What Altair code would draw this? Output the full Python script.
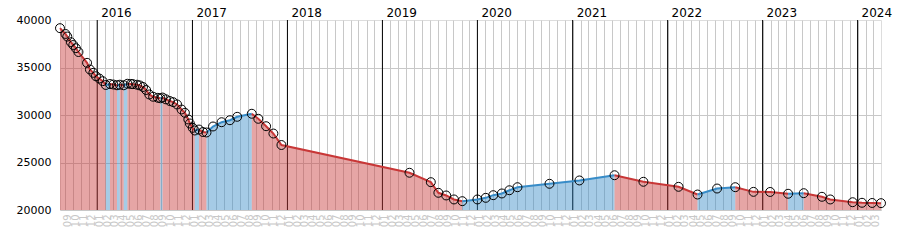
import altair as alt
import pandas as pd

dates = [
    "2015-08-11", "2015-09-01", "2015-09-08", "2015-09-22", "2015-10-01", "2015-10-11",
    "2015-10-21", "2015-11-23", "2015-12-04", "2015-12-17", "2015-12-27", "2016-01-09",
    "2016-01-22", "2016-02-03", "2016-02-19", "2016-03-03", "2016-03-17", "2016-03-28",
    "2016-04-12", "2016-04-26", "2016-05-09", "2016-05-17", "2016-06-02", "2016-06-13",
    "2016-06-25", "2016-07-07", "2016-07-19", "2016-08-03", "2016-08-21", "2016-08-31",
    "2016-09-08", "2016-09-21", "2016-10-06", "2016-10-19", "2016-11-03", "2016-11-20",
    "2016-12-03", "2016-12-16", "2016-12-22", "2017-01-02", "2017-01-10", "2017-01-26",
    "2017-02-10", "2017-02-24", "2017-03-21", "2017-04-23", "2017-05-25", "2017-06-22",
    "2017-08-17", "2017-09-11", "2017-10-11", "2017-11-08", "2017-12-09", "2019-04-15",
    "2019-07-06", "2019-08-04", "2019-09-03", "2019-10-03", "2019-11-04", "2020-01-01",
    "2020-02-02", "2020-03-02", "2020-04-04", "2020-05-03", "2020-06-03", "2020-10-04",
    "2021-01-27", "2021-06-11", "2021-09-30", "2022-02-12", "2022-04-26", "2022-07-10",
    "2022-09-18", "2022-11-27", "2023-01-30", "2023-04-09", "2023-06-08", "2023-08-17",
    "2023-09-18", "2023-12-13", "2024-01-18", "2024-02-26", "2024-03-31",
]
values = [
    39140, 38530, 38260, 37660, 37370, 37030,
    36630, 35490, 34790, 34440, 34080, 33840,
    33560, 33160, 33260, 33210, 33130, 33190,
    33130, 33290, 33270, 33250, 33190, 33110,
    32950, 32630, 32160, 31920, 31810, 31760,
    31840, 31650, 31470, 31350, 31110, 30580,
    30230, 29530, 29110, 28650, 28370, 28470,
    28210, 28160, 28790, 29240, 29450, 29810,
    30130, 29600, 28820, 28050, 26840, 23920,
    22930, 21810, 21530, 21110, 20930, 21110,
    21280, 21560, 21740, 22080, 22400, 22760,
    23110, 23660, 22970, 22440, 21630, 22260,
    22400, 21910, 21900, 21710, 21770, 21390,
    21110, 20820, 20760, 20740, 20720,
]
year_dates = ["2016-01-01", "2017-01-01", "2018-01-01", "2019-01-01", "2020-01-01",
              "2021-01-01", "2022-01-01", "2023-01-01", "2024-01-01"]
year_labels = ["2016", "2017", "2018", "2019", "2020", "2021", "2022", "2023", "2024"]
y_ticks = [20000, 25000, 30000, 35000, 40000]

RED = "#c83737"
BLUE = "#378cc8"

# group consecutive rising / falling intervals into runs
rows = []
run = 0
prev = None
for i in range(len(values) - 1):
    d = "up" if values[i + 1] > values[i] else "down"
    if d != prev:
        run += 1
        rows.append({"date": dates[i], "value": values[i], "run": run, "dir": d})
        prev = d
    rows.append({"date": dates[i + 1], "value": values[i + 1], "run": run, "dir": d})
seg = pd.DataFrame(rows)
pts = pd.DataFrame({"date": dates, "value": values})
yrs = pd.DataFrame({"date": year_dates, "label": year_labels})

x_axis = alt.Axis(
    format="%m", tickCount={"interval": "month", "step": 1}, labelAngle=270,
    labelOverlap=False, labelFlush=False, labelBound=False, ticks=False, domain=False,
    labelColor="#c8c8c8", labelFontSize=10, labelFont="DejaVu Sans", labelPadding=4,
    labelOffset=2, gridColor="#c8c8c8", gridWidth=1, title=None,
)
y_axis = alt.Axis(
    values=y_ticks, format="d", ticks=False, domain=False, labelColor="black",
    labelFontSize=11, labelFont="DejaVu Sans", labelPadding=9, gridColor="#c8c8c8",
    gridOpacity={"condition": {"test": "datum.value >= 40000", "value": 0}, "value": 1},
    title=None,
)
X = alt.X("date:T", scale=alt.Scale(nice=False), axis=x_axis)
Y = alt.Y("value:Q", scale=alt.Scale(domain=[20000, 40000], nice=False, zero=False), axis=y_axis)
color = alt.Color("dir:N", scale=alt.Scale(domain=["down", "up"], range=[RED, BLUE]), legend=None)

rules = alt.Chart(yrs).mark_rule(color="black", strokeWidth=1).encode(x=X)
ytext = alt.Chart(yrs).mark_text(
    align="left", baseline="alphabetic", dx=4, fontSize=12, font="DejaVu Sans", color="black"
).encode(x=X, y=alt.value(-3), text="label:N")
area = alt.Chart(seg).mark_area(opacity=0.45).encode(
    x=X, y=Y, y2=alt.datum(20000), color=color, detail="run:N",
)
line = alt.Chart(seg).mark_line(strokeWidth=2).encode(
    x=X, y=Y, color=color, detail="run:N",
)
points = alt.Chart(pts).mark_point(
    shape="circle", filled=False, color="black", size=80, strokeWidth=1, opacity=1
).encode(x=X, y=Y)

chart = alt.layer(rules, area, line, points, ytext).properties(
    width=821, height=190,
    autosize=alt.AutoSizeParams(type="none"),
    padding={"left": 60, "top": 20, "right": 19, "bottom": 40},
).configure_view(stroke=None).configure(background="white")

chart.save("out.html", embed_options={"renderer": "svg", "actions": False})
